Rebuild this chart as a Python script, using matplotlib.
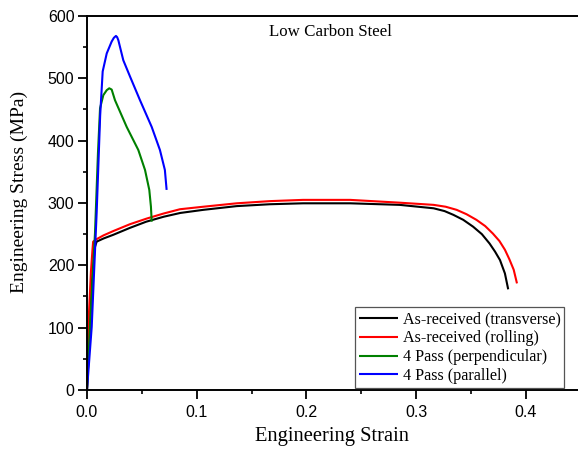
import matplotlib
matplotlib.use("Agg")
import matplotlib.pyplot as plt
from matplotlib.ticker import MultipleLocator

# Engineering stress-strain data (strain, MPa)
transverse_strain = [0, 0.0046, 0.0070, 0.0088, 0.015, 0.024, 0.039, 0.054, 0.070, 0.085,
                     0.106, 0.1365, 0.1668, 0.197, 0.24, 0.285, 0.316, 0.326, 0.334, 0.343,
                     0.352, 0.360, 0.367, 0.372, 0.3765, 0.381, 0.384]
transverse_stress = [0, 176, 228, 238, 243, 249, 260, 270, 278, 284,
                     289, 295, 298, 299.5, 299.5, 297, 291.5, 287, 281, 273,
                     262, 250, 235, 222, 208.5, 187, 161.5]

rolling_strain = [0, 0.0012, 0.0036, 0.0050, 0.0056, 0.0088, 0.015, 0.024, 0.0392, 0.0544,
                  0.0696, 0.0848, 0.106, 0.1365, 0.1668, 0.197, 0.24, 0.285, 0.316, 0.327,
                  0.337, 0.346, 0.355, 0.363, 0.370, 0.376, 0.381, 0.385, 0.389, 0.392]
rolling_stress = [0, 101, 190, 225, 238, 242, 248, 255, 266, 275,
                  283, 290, 294, 299.5, 303, 305, 305, 300.5, 297, 294,
                  289, 282, 273, 263, 251, 239, 225, 210, 193, 171]

perp_strain = [0, 0.0027, 0.0073, 0.0100, 0.0119, 0.0149, 0.0180, 0.0203, 0.0225, 0.0255,
               0.0362, 0.0468, 0.0529, 0.0568, 0.0583, 0.059]
perp_stress = [0, 101, 252, 380, 452, 473, 481, 484, 482, 465,
               422, 385, 353, 321, 294, 270]

para_strain = [0, 0.0043, 0.0088, 0.0120, 0.0143, 0.0180, 0.0225, 0.0245, 0.0264, 0.0275,
               0.0286, 0.0331, 0.0392, 0.0483, 0.059, 0.0665, 0.071, 0.0726]
para_stress = [0, 101, 284, 440, 511, 540, 559, 565, 568, 566,
               561, 529, 503, 465, 422, 385, 353, 321]

series = [
    ("As-received (transverse)", transverse_strain, transverse_stress, "#000000"),
    ("As-received (rolling)", rolling_strain, rolling_stress, "#ff0000"),
    ("4 Pass (perpendicular)", perp_strain, perp_stress, "#008000"),
    ("4 Pass (parallel)", para_strain, para_stress, "#0000ff"),
]

serif = ["Liberation Serif", "DejaVu Serif"]
sans = ["Liberation Sans", "DejaVu Sans"]

fig = plt.figure(figsize=(5.78, 4.49), dpi=100)
ax = fig.add_axes([0.1505, 0.1314, 0.854, 0.833])

for label, x, y, c in series:
    ax.plot(x, y, color=c, lw=1.5, label=label,
            solid_joinstyle="round", solid_capstyle="butt")

ax.set_xlim(0, 0.45)
ax.set_ylim(0, 600)
ax.xaxis.set_minor_locator(MultipleLocator(0.05))
ax.yaxis.set_major_locator(MultipleLocator(100))
ax.yaxis.set_minor_locator(MultipleLocator(50))
ax.set_xticks([0, 0.1, 0.2, 0.3, 0.4])
ax.set_xticklabels(["0.0", "0.1", "0.2", "0.3", "0.4"])

for s in ax.spines.values():
    s.set_linewidth(1.4)
ax.tick_params(which="major", direction="out", length=6.5, width=1.3,
               labelsize=11.5, pad=2.5)
ax.tick_params(axis="x", which="major", pad=4)
ax.tick_params(which="minor", direction="out", length=3, width=1.2)
for t in ax.get_xticklabels() + ax.get_yticklabels():
    t.set_family(sans)

ax.set_xlabel("Engineering Strain", family=serif, fontsize=14.8)
ax.set_ylabel("Engineering Stress (MPa)", family=serif, fontsize=14)
ax.xaxis.set_label_coords(0.496, -0.1)
ax.yaxis.set_label_coords(-0.12, 0.53)

ax.text(0.222, 574, "Low Carbon Steel", family=serif, fontsize=12.2,
        ha="center", va="center")

leg = ax.legend(loc="lower left", bbox_to_anchor=(0.543, 0.005),
                prop={"family": serif, "size": 11.6}, fancybox=False,
                framealpha=1, edgecolor="#555555", handlelength=2.4,
                handletextpad=0.3, labelspacing=0.18, borderpad=0.25,
                borderaxespad=0)
leg.get_frame().set_linewidth(0.9)

fig.savefig("out.png", dpi=100)
